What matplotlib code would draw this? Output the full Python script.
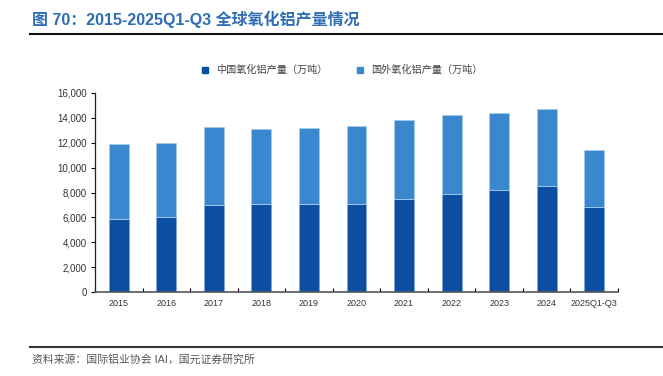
import matplotlib
matplotlib.use("Agg")
import matplotlib.pyplot as plt
from matplotlib.lines import Line2D
import numpy as np

categories = ["2015", "2016", "2017", "2018", "2019", "2020", "2021", "2022", "2023", "2024", "2025Q1-Q3"]
total = [11870, 12000, 13260, 13080, 13210, 13340, 13850, 14230, 14360, 14680, 11410]
china = [5870, 6030, 7020, 7100, 7070, 7050, 7480, 7900, 8170, 8520, 6830]
foreign = [t - c for t, c in zip(total, china)]
yticks = [0, 2000, 4000, 6000, 8000, 10000, 12000, 14000, 16000]

FONT = ["Liberation Sans", "Noto Sans CJK SC", "DejaVu Sans"]
plt.rcParams["font.family"] = FONT

fig = plt.figure(figsize=(6.63, 3.76), dpi=100)
W, H = 663, 376
ax = fig.add_axes([95 / W, 1 - 292 / H, 523 / W, 199 / H])

x = np.arange(len(categories))
c_china = "#0C4EA2"
c_for = "#3A87CF"
ax.bar(x, china, width=0.42, color=c_china, edgecolor="#7FA8D8", linewidth=0.6, zorder=2)
ax.bar(x, foreign, bottom=china, width=0.42, color=c_for, edgecolor="#A9CBEA", linewidth=0.6, zorder=2)

ax.set_xlim(-0.5, len(categories) - 0.5)
ax.set_ylim(0, 16000)
ax.set_yticks(yticks)
ax.set_yticklabels([f"{v:,}" for v in yticks], fontsize=7, color="#333333")
ax.set_xticks(x)
ax.set_xticklabels(categories, fontsize=6.5, color="#333333")
ax.set_xticks(np.arange(-0.5, len(categories)), minor=True)
ax.tick_params(axis="x", which="major", length=0, pad=5)
ax.tick_params(axis="x", which="minor", length=3, direction="in", width=0.8)
ax.tick_params(axis="y", length=3, direction="out", width=0.8, pad=3)
for s in ["top", "right"]:
    ax.spines[s].set_visible(False)
ax.spines["left"].set_color("#222222")
ax.spines["bottom"].set_color("#555555")
ax.spines["left"].set_linewidth(0.9)
ax.spines["bottom"].set_linewidth(1.2)

# legend
handles = [
    Line2D([], [], marker="s", linestyle="", color=c_china, markersize=4.5),
    Line2D([], [], marker="s", linestyle="", color=c_for, markersize=4.5),
]
fig.legend(handles, ["中国氧化铝产量（万吨）", "国外氧化铝产量（万吨）"],
           loc="center", bbox_to_anchor=(339 / W, 1 - 70 / H), ncol=2, frameon=False,
           handletextpad=0.1, columnspacing=2.2,
           prop={"family": FONT, "size": 7.3}, labelcolor="#444444")

# title
fig.text(32 / W, 1 - 19 / H, "图 70：2015-2025Q1-Q3 全球氧化铝产量情况",
         fontsize=11.5, fontweight="bold", color="#2F6DB5", va="center", ha="left")
fig.add_artist(Line2D([30 / W, 1.0], [1 - 33.5 / H, 1 - 33.5 / H], color="#111111", linewidth=1.5))
fig.add_artist(Line2D([30 / W, 1.0], [1 - 347 / H, 1 - 347 / H], color="#333333", linewidth=1.5))
fig.text(32 / W, 1 - 360 / H, "资料来源：国际铝业协会 IAI，国元证券研究所",
         fontsize=7.8, color="#555555", va="center", ha="left")

fig.savefig("out.png", dpi=100)
